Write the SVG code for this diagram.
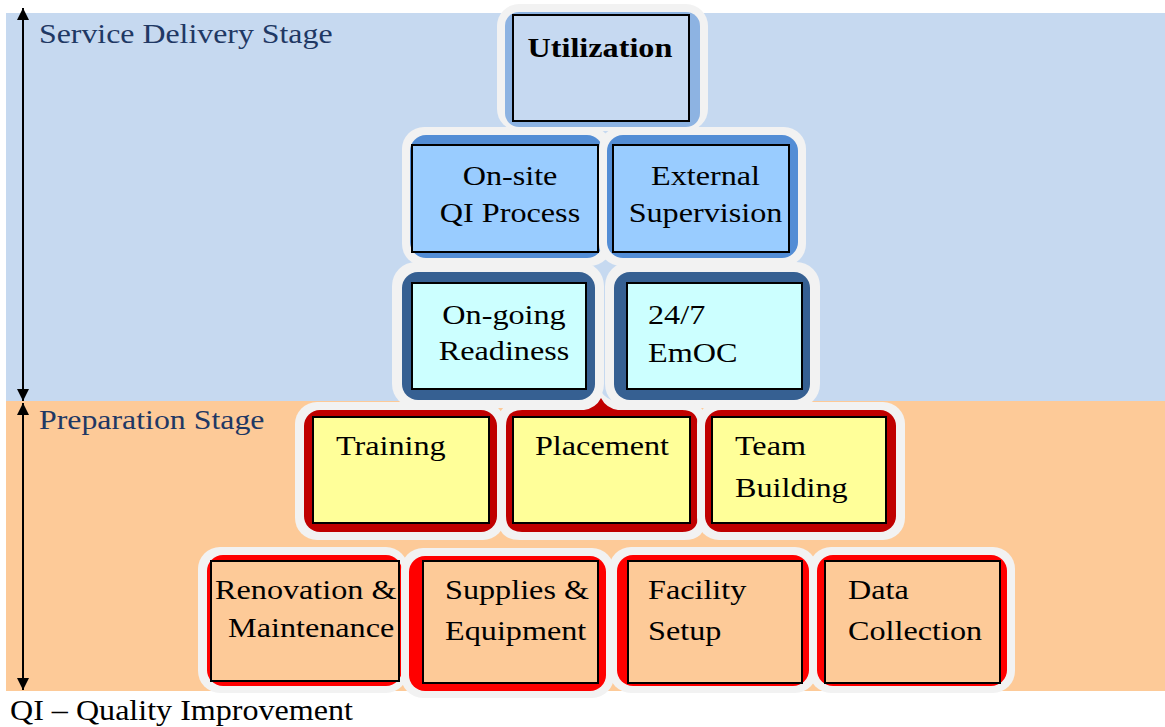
<svg xmlns="http://www.w3.org/2000/svg" width="1165" height="727" viewBox="0 0 1165 727">
  <defs>
    <marker id="head" viewBox="0 0 12 12" refX="12" refY="6" markerWidth="12" markerHeight="12" markerUnits="userSpaceOnUse" orient="auto">
      <path d="M0,0 L12,6 L0,12 Z" fill="#000"/>
    </marker>
  </defs>
  <style>
    text { font-family: "Liberation Serif", "Times New Roman", serif; fill: #000; }
    .lbl { font-size: 28px; }
    .stage { font-size: 27px; fill: #1f3864; }
    .frame { fill: #f2f2f2; }
    .inner { stroke: #000; stroke-width: 2; }
    .c1 { fill: #8db3e2; }
    .i1 { fill: #c6d9f1; }
    .c2 { fill: #538dd5; }
    .i2 { fill: #99ccff; }
    .c3 { fill: #366092; }
    .i3 { fill: #ccffff; }
    .c4 { fill: #c00000; }
    .i4 { fill: #ffff99; }
    .c5 { fill: #ff0000; }
    .i5 { fill: #fdca98; }
    .axis { stroke: #000; stroke-width: 2; fill: none; }
  </style>

  <!-- stage bands -->
  <rect x="6" y="13" width="1159" height="388" fill="#c6d9f0"/>
  <rect x="6" y="401" width="1159" height="290" fill="#fdca98"/>

  <!-- stage labels (type is set slightly wide) -->
  <text class="stage" x="33.05" y="43" transform="scale(1.18 1)">Service Delivery Stage</text>
  <text class="stage" x="33.05" y="429" transform="scale(1.18 1)">Preparation Stage</text>

  <!-- stage extent arrows -->
  <g id="connectors">
    <line class="axis" x1="23" y1="399" x2="23" y2="8" marker-end="url(#head)"/>
    <line class="axis" x1="23" y1="14" x2="23" y2="401" marker-end="url(#head)"/>
    <line class="axis" x1="23" y1="688" x2="23" y2="403" marker-end="url(#head)"/>
    <line class="axis" x1="23" y1="406" x2="23" y2="690" marker-end="url(#head)"/>
  </g>

  <!-- top tier; node captions use a 1.15 horizontal stretch -->
  <g id="utilization">
    <rect class="frame" x="497" y="4" width="211" height="127" rx="22"/>
    <rect class="c1" x="505" y="12" width="195" height="115" rx="14"/>
    <rect class="inner i1" x="513" y="15" width="176" height="106"/>
    <text class="lbl" x="521.7" y="57" text-anchor="middle" font-weight="bold" transform="scale(1.15 1)">Utilization</text>
  </g>

  <!-- second tier -->
  <g id="onsite-qi">
    <rect class="frame" x="402" y="127" width="210" height="139" rx="22"/>
    <rect class="c2" x="410" y="135" width="193" height="123" rx="16"/>
    <rect class="inner i2" x="412" y="145" width="186" height="107"/>
    <text class="lbl" x="443.5" y="185" text-anchor="middle" transform="scale(1.15 1)">On-site</text>
    <text class="lbl" x="443.5" y="222" text-anchor="middle" transform="scale(1.15 1)">QI Process</text>
  </g>
  <g id="external-supervision">
    <rect class="frame" x="599" y="127" width="207" height="139" rx="22"/>
    <rect class="c2" x="607" y="135" width="191" height="123" rx="16"/>
    <rect class="inner i2" x="613" y="145" width="176" height="107"/>
    <text class="lbl" x="613.5" y="185" text-anchor="middle" transform="scale(1.15 1)">External</text>
    <text class="lbl" x="613.5" y="222" text-anchor="middle" transform="scale(1.15 1)">Supervision</text>
  </g>

  <!-- third tier -->
  <g id="ongoing-readiness">
    <rect class="frame" x="392" y="262" width="212" height="146" rx="24"/>
    <rect class="c3" x="402" y="272" width="193" height="128" rx="16"/>
    <rect class="inner i3" x="412" y="283" width="174" height="106"/>
    <text class="lbl" x="438.3" y="324" text-anchor="middle" transform="scale(1.15 1)">On-going</text>
    <text class="lbl" x="438.3" y="360" text-anchor="middle" transform="scale(1.15 1)">Readiness</text>
  </g>
  <g id="emoc">
    <rect class="frame" x="605" y="262" width="215" height="146" rx="24"/>
    <rect class="c3" x="614" y="272" width="196" height="128" rx="16"/>
    <rect class="inner i3" x="627" y="283" width="175" height="106"/>
    <text class="lbl" x="563.5" y="324" transform="scale(1.15 1)">24/7</text>
    <text class="lbl" x="563.5" y="362" transform="scale(1.15 1)">EmOC</text>
  </g>

  <!-- fourth tier -->
  <g id="training">
    <rect class="frame" x="295" y="402" width="210" height="138" rx="22"/>
    <rect class="c4" x="304" y="410" width="193" height="122" rx="16"/>
    <rect class="inner i4" x="313" y="417" width="176" height="106"/>
    <text class="lbl" x="292.2" y="455" transform="scale(1.15 1)">Training</text>
  </g>
  <g id="placement">
    <path class="frame" d="M520,402 L582,402 Q594,400 600,390 Q606,400 618,402 L684,402 Q706,402 706,424 L706,518 Q706,540 684,540 L520,540 Q498,540 498,518 L498,424 Q498,402 520,402 Z"/>
    <path class="c4" d="M522,410 L584,410 Q596,408 601,398 Q606,408 618,410 L682,410 Q698,410 698,426 L698,516 Q698,532 682,532 L522,532 Q506,532 506,516 L506,426 Q506,410 522,410 Z"/>
    <rect class="inner i4" x="513" y="417" width="177" height="106"/>
    <text class="lbl" x="465.2" y="455" transform="scale(1.15 1)">Placement</text>
  </g>
  <g id="team-building">
    <rect class="frame" x="697" y="402" width="208" height="138" rx="22"/>
    <rect class="c4" x="705" y="410" width="191" height="122" rx="16"/>
    <rect class="inner i4" x="712" y="417" width="174" height="106"/>
    <text class="lbl" x="639.1" y="455" transform="scale(1.15 1)">Team</text>
    <text class="lbl" x="639.1" y="497" transform="scale(1.15 1)">Building</text>
  </g>

  <!-- bottom tier -->
  <g id="renovation">
    <rect class="frame" x="198" y="547" width="210" height="146" rx="22"/>
    <rect class="c5" x="207" y="555" width="195" height="131" rx="16"/>
    <rect class="inner i5" x="211" y="561" width="188" height="120"/>
    <text class="lbl" x="187" y="599" transform="scale(1.15 1)">Renovation &amp;</text>
    <text class="lbl" x="198.3" y="637" transform="scale(1.15 1)">Maintenance</text>
  </g>
  <g id="supplies">
    <rect class="frame" x="401" y="548" width="213" height="150" rx="22"/>
    <rect class="c5" x="409" y="556" width="197" height="135" rx="16"/>
    <rect class="inner i5" x="423" y="561" width="175" height="122"/>
    <text class="lbl" x="387" y="599" transform="scale(1.15 1)">Supplies &amp;</text>
    <text class="lbl" x="387" y="640" transform="scale(1.15 1)">Equipment</text>
  </g>
  <g id="facility-setup">
    <rect class="frame" x="609" y="547" width="208" height="146" rx="22"/>
    <rect class="c5" x="617" y="555" width="192" height="131" rx="16"/>
    <rect class="inner i5" x="628" y="561" width="174" height="122"/>
    <text class="lbl" x="563.5" y="599" transform="scale(1.15 1)">Facility</text>
    <text class="lbl" x="563.5" y="640" transform="scale(1.15 1)">Setup</text>
  </g>
  <g id="data-collection">
    <rect class="frame" x="809" y="547" width="206" height="146" rx="22"/>
    <rect class="c5" x="817" y="555" width="190" height="131" rx="16"/>
    <rect class="inner i5" x="825" y="561" width="175" height="122"/>
    <text class="lbl" x="737.4" y="599" transform="scale(1.15 1)">Data</text>
    <text class="lbl" x="737.4" y="640" transform="scale(1.15 1)">Collection</text>
  </g>

  <!-- abbreviation key -->
  <text x="9.35" y="720" font-size="30" transform="scale(1.07 1)">QI – Quality Improvement</text>
</svg>
